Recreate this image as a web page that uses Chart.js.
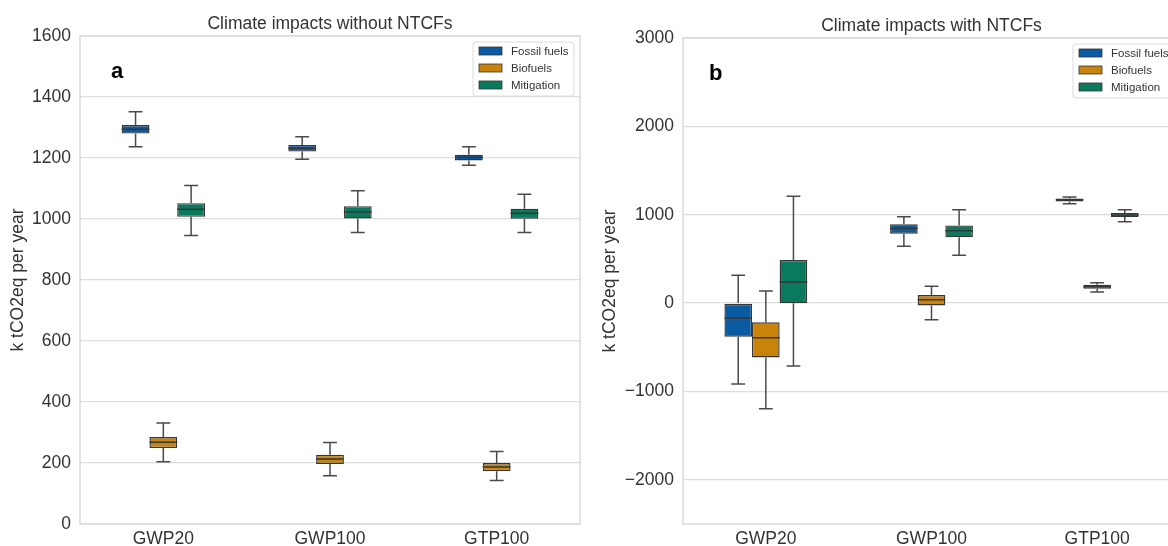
<!DOCTYPE html>
<html>
<head>
<meta charset="utf-8">
<script src="https://cdn.jsdelivr.net/npm/chart.js@4.4.0/dist/chart.umd.min.js"></script>
<style>
  body { margin: 0; background: #fff; overflow: hidden; }
  #wrap { position: relative; width: 1168px; height: 546px; overflow: hidden; }
  #cA { position: absolute; left: 0; top: 0; }
  #cB { position: absolute; left: 590px; top: 0; }
</style>
</head>
<body>
<div id="wrap">
  <canvas id="cA" width="590" height="546"></canvas>
  <canvas id="cB" width="600" height="546"></canvas>
</div>
<script>
// categories + series
var categories = ["GWP20", "GWP100", "GTP100"];
var seriesNames = ["Fossil fuels", "Biofuels", "Mitigation"];
var colors = ["#0b5ba3", "#c8830a", "#0a7a5d"];

// panel a - without NTCFs (per series: [GWP20, GWP100, GTP100])
var a_fossil_min = [1237, 1196, 1176];
var a_fossil_q1  = [1280, 1221, 1192];
var a_fossil_med = [1294, 1232, 1202];
var a_fossil_q3  = [1308, 1243, 1211];
var a_fossil_max = [1352, 1270, 1237];

var a_bio_min = [204, 158, 143];
var a_bio_q1  = [249, 197, 173];
var a_bio_med = [268, 213, 187];
var a_bio_q3  = [285, 227, 200];
var a_bio_max = [331, 267, 238];

var a_mit_min = [946, 956, 956];
var a_mit_q1  = [1007, 1002, 1001];
var a_mit_med = [1032, 1023, 1019];
var a_mit_q3  = [1052, 1042, 1034];
var a_mit_max = [1110, 1093, 1081];

// panel b - with NTCFs
var b_fossil_min = [-917, 642, 1125];
var b_fossil_q1  = [-380, 785, 1151];
var b_fossil_med = [-170, 845, 1170];
var b_fossil_q3  = [0, 891, 1185];
var b_fossil_max = [315, 978, 1200];

var b_bio_min = [-1195, -188, 125];
var b_bio_q1  = [-615, -26, 163];
var b_bio_med = [-392, 38, 186];
var b_bio_q3  = [-218, 91, 208];
var b_bio_max = [136, 192, 230];

var b_mit_min = [-713, 540, 921];
var b_mit_q1  = [-3, 744, 973];
var b_mit_med = [238, 819, 996];
var b_mit_q3  = [487, 879, 1019];
var b_mit_max = [1208, 1057, 1057];

var ticksA = [0, 200, 400, 600, 800, 1000, 1200, 1400, 1600];
var ticksB = [-2000, -1000, 0, 1000, 2000, 3000];

var FONT = "'Liberation Sans', Arial, sans-serif";
var EDGE = "#363636";

function mkSet(name, color, mins, q1, med, q3, maxs) {
  return {
    label: name,
    data: q1.map(function (v, i) { return [v, q3[i]]; }),
    backgroundColor: color,
    borderColor: EDGE,
    borderWidth: 1.4,
    borderSkipped: false,
    mins: mins, meds: med, maxs: maxs
  };
}

var boxPlugin = {
  id: "boxes",
  beforeDraw: function (chart) {
    var c = chart.ctx;
    c.save();
    c.fillStyle = "#fff";
    c.fillRect(0, 0, chart.width, chart.height);
    c.restore();
  },
  afterDatasetsDraw: function (chart) {
    var c = chart.ctx, y = chart.scales.y;
    c.save();
    c.lineWidth = 1.5;
    chart.data.datasets.forEach(function (ds, di) {
      var meta = chart.getDatasetMeta(di);
      meta.data.forEach(function (el, i) {
        var x = el.x, hw = el.width / 2;
        var yMin = y.getPixelForValue(ds.mins[i]);
        var yMax = y.getPixelForValue(ds.maxs[i]);
        var yQ1 = y.getPixelForValue(ds.data[i][0]);
        var yQ3 = y.getPixelForValue(ds.data[i][1]);
        var yMed = y.getPixelForValue(ds.meds[i]);
        c.strokeStyle = "#4a4a4a";
        c.beginPath();
        c.moveTo(x, yQ3); c.lineTo(x, yMax);
        c.moveTo(x, yQ1); c.lineTo(x, yMin);
        c.moveTo(x - hw / 2, yMax); c.lineTo(x + hw / 2, yMax);
        c.moveTo(x - hw / 2, yMin); c.lineTo(x + hw / 2, yMin);
        c.stroke();
        c.strokeStyle = EDGE;
        c.beginPath();
        c.moveTo(x - hw, yMed); c.lineTo(x + hw, yMed);
        c.stroke();
      });
    });
    c.restore();
  },
  afterDraw: function (chart) {
    var c = chart.ctx, a = chart.chartArea, o = chart.options.plugins.boxes;
    c.save();
    // frame
    c.strokeStyle = "#d6d6d6";
    c.lineWidth = 1.3;
    c.strokeRect(a.left, a.top, a.right - a.left, a.bottom - a.top);
    // title
    c.fillStyle = "#333";
    c.font = "17.5px " + FONT;
    c.textAlign = "center";
    c.textBaseline = "alphabetic";
    c.fillText(o.title, (a.left + a.right) / 2, a.top - 7);
    // y title
    c.save();
    c.translate(o.ytitleX, (a.top + a.bottom) / 2);
    c.rotate(-Math.PI / 2);
    c.textBaseline = "middle";
    c.fillText("k tCO2eq per year", 0, 0);
    c.restore();
    // panel letter
    c.fillStyle = "#000";
    c.font = "bold 22px " + FONT;
    c.textAlign = "left";
    c.fillText(o.letter, a.left + o.letterDx, a.top + 42);
    // legend
    var lw = 101, lh = 54;
    var lx = a.right - 6 - lw, ly = a.top + 6;
    c.fillStyle = "rgba(255,255,255,0.9)";
    c.strokeStyle = "#dcdcdc";
    c.lineWidth = 1;
    c.beginPath();
    if (c.roundRect) c.roundRect(lx, ly, lw, lh, 3); else c.rect(lx, ly, lw, lh);
    c.fill(); c.stroke();
    c.font = "11.5px " + FONT;
    c.textBaseline = "middle";
    chart.data.datasets.forEach(function (ds, i) {
      var ry = ly + 9 + i * 17;
      c.fillStyle = ds.backgroundColor;
      c.fillRect(lx + 6, ry - 4, 23, 8);
      c.strokeStyle = EDGE;
      c.lineWidth = 0.8;
      c.strokeRect(lx + 6, ry - 4, 23, 8);
      c.fillStyle = "#333";
      c.fillText(ds.label, lx + 38, ry + 0.5);
    });
    c.restore();
  }
};

function mkChart(id, sets, min, max, tickVals, padTop, yWidth, opts) {
  return new Chart(document.getElementById(id), {
    type: "bar",
    data: { labels: categories, datasets: sets },
    options: {
      responsive: false,
      animation: false,
      devicePixelRatio: 1,
      layout: { padding: { top: padTop, right: 10, bottom: 0, left: 0 } },
      datasets: { bar: { categoryPercentage: 0.5, barPercentage: 1.0 } },
      plugins: { legend: { display: false }, tooltip: { enabled: false }, boxes: opts },
      scales: {
        x: {
          grid: { display: false, drawTicks: false },
          border: { display: false },
          ticks: { font: { size: 17.5, family: FONT }, color: "#333", padding: 5 },
          afterFit: function (s) { s.height = 22; }
        },
        y: {
          min: min, max: max,
          grid: { color: "#dedede", lineWidth: 1.3, drawTicks: false },
          border: { display: false },
          ticks: {
            font: { size: 17.5, family: FONT }, color: "#333", padding: 9,
            callback: function (v) { return String(v).replace("-", "\u2212"); }
          },
          afterBuildTicks: function (s) { s.ticks = tickVals.map(function (v) { return { value: v }; }); },
          afterFit: function (s) { s.width = yWidth; }
        }
      }
    },
    plugins: [boxPlugin]
  });
}

mkChart("cA", [
  mkSet(seriesNames[0], colors[0], a_fossil_min, a_fossil_q1, a_fossil_med, a_fossil_q3, a_fossil_max),
  mkSet(seriesNames[1], colors[1], a_bio_min, a_bio_q1, a_bio_med, a_bio_q3, a_bio_max),
  mkSet(seriesNames[2], colors[2], a_mit_min, a_mit_q1, a_mit_med, a_mit_q3, a_mit_max)
], 0, 1600, ticksA, 36, 80, { title: "Climate impacts without NTCFs", letter: "a", letterDx: 31, ytitleX: 18 });

mkChart("cB", [
  mkSet(seriesNames[0], colors[0], b_fossil_min, b_fossil_q1, b_fossil_med, b_fossil_q3, b_fossil_max),
  mkSet(seriesNames[1], colors[1], b_bio_min, b_bio_q1, b_bio_med, b_bio_q3, b_bio_max),
  mkSet(seriesNames[2], colors[2], b_mit_min, b_mit_q1, b_mit_med, b_mit_q3, b_mit_max)
], -2500, 3000, ticksB, 38, 93, { title: "Climate impacts with NTCFs", letter: "b", letterDx: 26, ytitleX: 20 });
</script>
</body>
</html>
